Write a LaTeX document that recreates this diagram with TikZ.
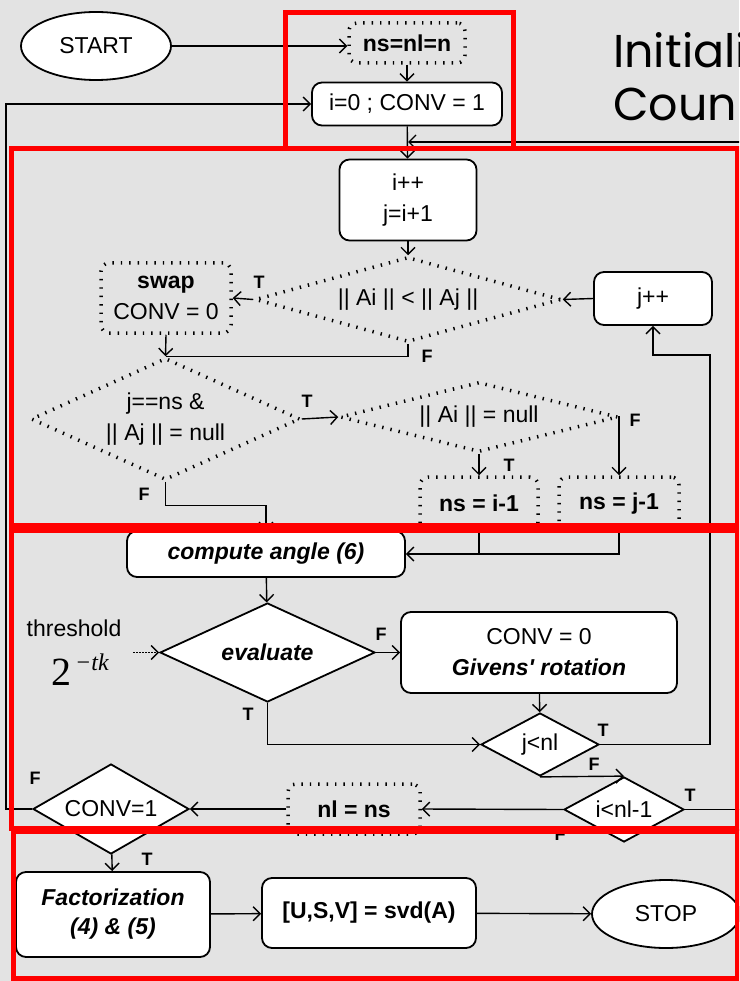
\documentclass[tikz,border=0pt]{standalone}
\usepackage{fontspec}
\setmainfont{Liberation Sans}
\newfontfamily\headfont{Poppins}
\newfontfamily\serifmath{Liberation Serif}
\usetikzlibrary{shapes.geometric,arrows.meta}
\begin{document}
\begin{tikzpicture}[x=1pt,y=-1pt,
  tip/.style={-{Straight Barb[length=7pt,width=14pt,line width=1.4pt]}},
  conn/.style={line width=1.4pt,tip},
  plain/.style={line width=1.4pt},
  txt/.style={font=\fontsize{23}{31}\selectfont},
  sbox/.style={draw,line width=1.8pt,fill=white,rounded corners=10pt,align=center,inner sep=0pt,txt},
  dbox/.style={draw,line width=3.5pt,dash pattern=on 1.4pt off 7pt,rounded corners=8pt,align=center,inner sep=0pt,txt},
  sdia/.style={draw,shape=diamond,line width=1.8pt,fill=white,inner sep=0pt,align=center,txt},
  ddia/.style={draw,shape=diamond,line width=3.5pt,dash pattern=on 1.4pt off 7pt,inner sep=0pt,align=center,txt},
  term/.style={draw,ellipse,line width=1.8pt,fill=white,inner sep=0pt,txt},
  lab/.style={font=\fontsize{18}{20}\selectfont\bfseries,inner sep=0pt},
  redbox/.style={draw=red,line width=5pt}
]
\useasboundingbox (0,0) rectangle (739,981);
\clip (0,0) rectangle (739,981);
\fill[black!11] (0,0) rectangle (739,981);

% heading
\node[anchor=base west,inner sep=0pt,font=\headfont\fontsize{46}{50}\selectfont] (h1) at (613,68) {Initiali};
\node[anchor=base west,inner sep=0pt,font=\headfont\fontsize{46}{50}\selectfont] (h2) at (613,121) {Coun};

% nodes
\node[term,minimum width=150,minimum height=68] (start) at (96,46) {START};
\node[dbox,font=\fontsize{23}{31}\selectfont\bfseries,minimum width=116,minimum height=40] (nsnl) at (407,43) {ns=nl=n};
\node[sbox,minimum width=190,minimum height=43] (i0) at (407,104) {i=0 ; CONV = 1};
\node[sbox,minimum width=137,minimum height=81] (ipp) at (408,200) {i++\\j=i+1};
\node[ddia,minimum width=306,minimum height=85,shape aspect=3.6] (d1) at (408,299.5) {|| Ai || < || Aj ||};
\node[dbox,minimum width=130,minimum height=70] (swap) at (166,298) {\textbf{swap}\\CONV = 0};
\node[sbox,minimum width=118,minimum height=53] (jpp) at (653,298.5) {j++};
\node[ddia,minimum width=269,minimum height=122,shape aspect=2.2] (d2) at (165.5,419) {j==ns \&\\|| Aj || = null};
\node[ddia,minimum width=278,minimum height=70,shape aspect=4] (d3) at (479,417) {|| Ai || = null};
\node[dbox,font=\fontsize{23}{31}\selectfont\bfseries,minimum width=118,minimum height=53] (nsi1) at (479,503.5) {ns = i-1};
\node[dbox,font=\fontsize{23}{31}\selectfont\bfseries,minimum width=120,minimum height=53] (nsj1) at (619,503.5) {ns = j-1};
\node[sbox,font=\fontsize{23}{31}\selectfont\bfseries\itshape,minimum width=278,minimum height=46] (comp) at (266,554) {compute angle (6)};
\node[sdia,font=\fontsize{23}{31}\selectfont\bfseries\itshape,minimum width=215,minimum height=99,shape aspect=2.17] (eval) at (267.5,652.5) {evaluate};
\node[sbox,minimum width=276,minimum height=81] (giv) at (539,652.5) {CONV = 0\\\textbf{\textit{Givens\textquotesingle\ rotation}}};
\node[sdia,minimum width=118,minimum height=63,shape aspect=1.87] (jnl) at (540,744.5) {j<nl};
\node[sdia,minimum width=120,minimum height=65,shape aspect=1.85] (inl) at (624,809.5) {i<nl-1};
\node[dbox,font=\fontsize{23}{31}\selectfont\bfseries,minimum width=132,minimum height=50] (nlns) at (354,809) {nl = ns};
\node[sdia,minimum width=156,minimum height=90,shape aspect=1.73] (conv) at (111,809) {CONV=1};
\node[sbox,font=\fontsize{23}{29}\selectfont\bfseries\itshape,minimum width=194,minimum height=85] (fact) at (113,914.5) {Factorization\\(4) \& (5)};
\node[sbox,font=\fontsize{23}{31}\selectfont\bfseries,minimum width=214,minimum height=70] (svd) at (369,913) {[U,S,V] = svd(A)};
\node[term,minimum width=148,minimum height=68] (stop) at (666,914) {STOP};

\node[txt,inner sep=0pt] (thr) at (74,628) {threshold};
\node[inner sep=0pt,font=\serifmath\fontsize{40}{44}\selectfont] (tk) at (80,670) {2\raisebox{15pt}{\fontsize{24}{26}\selectfont\itshape\,\textminus tk}};
\coordinate (thrs) at (133,652.5);
\coordinate (retj) at (408,142);

% connectors
\draw[conn] (start) -- (nsnl.west |- start);
\draw[conn] (nsnl) -- (i0);
\draw[conn] (i0) -- (ipp);
\draw[conn] (ipp) -- (d1);
\draw[conn] (d1.west) -- (swap.east);
\draw[conn] (jpp.west) -- (d1.east);
\draw[plain] (d1.south) |- (d2.north);
\draw[conn] (swap.south) -- (d2.north);
\draw[conn] (d2.east) -- (d3.west);
\draw[conn] (d3.south) -- (nsi1.north);
\draw[conn] (d3.east) -| (nsj1.north);
\draw[conn] (d2.south) -- ++(0,24) -| (comp.north);
\draw[plain] (nsi1.south) -- (nsi1.south |- comp.east);
\draw[conn] (nsj1.south) |- (comp.east);
\draw[conn] (comp) -- (eval);
\draw[line width=1.4pt,dash pattern=on 1.5pt off 1.5pt,tip] (thrs) -- (eval.west);
\draw[conn] (eval.east) -- (giv.west);
\draw[conn] (giv) -- (jnl);
\draw[conn] (eval.south) |- (jnl.west);
\draw[conn] (jnl.east) -| (710,355) -| (jpp.south);
\draw[conn] (jnl.south) -- (inl.north);
\draw[conn] (inl.east) -- (742,809.5) |- (retj);
\draw[conn] (inl.west) -- (nlns.east);
\draw[conn] (nlns.west) -- (conv.east);
\draw[conn] (conv.west) -- (6,809) |- (i0.west);
\draw[conn] (conv) -- (fact);
\draw[conn] (fact) -- (svd);
\draw[conn] (svd) -- (stop);

% labels
\node[lab] (t1) at (259,282) {T};
\node[lab] (f1) at (427,356) {F};
\node[lab] (t2) at (307,401) {T};
\node[lab] (f3) at (635,420) {F};
\node[lab] (t3) at (509,465) {T};
\node[lab] (f2) at (144,494) {F};
\node[lab] (f4) at (381,634) {F};
\node[lab] (t4) at (248,714) {T};
\node[lab] (t5) at (603,730) {T};
\node[lab] (f5) at (594,764) {F};
\node[lab] (t6) at (690,795) {T};
\node[lab] (f6) at (560,834) {F};
\node[lab] (f7) at (35,778) {F};
\node[lab] (t7) at (147,859) {T};

% red frames
\draw[redbox] (285,13) rectangle (513,149);
\draw[redbox] (11,149) rectangle (737,525);
\draw[redbox] (11,530) rectangle (737,828);
\draw[redbox] (13,831) rectangle (737,978);
\end{tikzpicture}
\end{document}
